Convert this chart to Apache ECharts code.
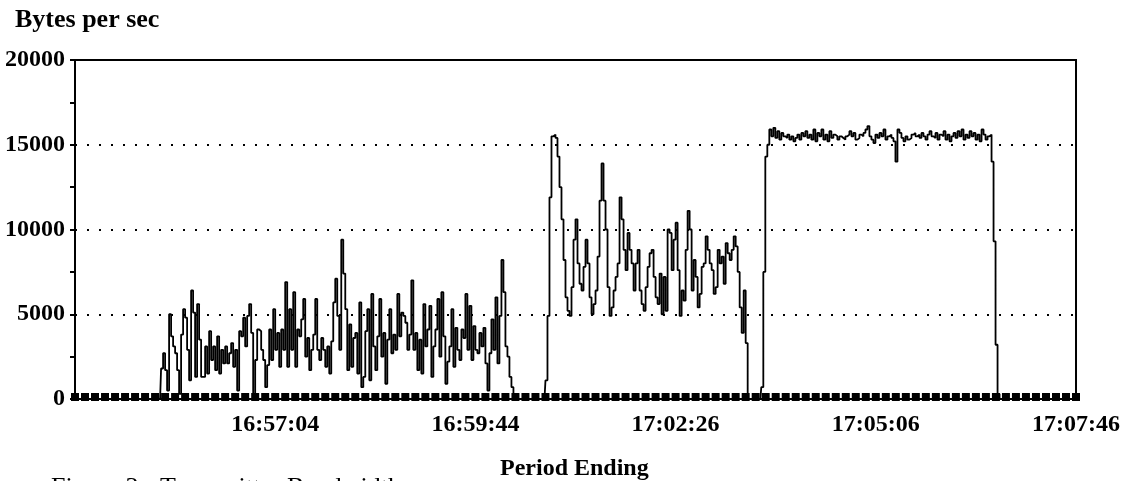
<!DOCTYPE html>
<html>
<head>
<meta charset="utf-8">
<script src="https://cdn.jsdelivr.net/npm/echarts@6/dist/echarts.min.js"></script>
<style>
html,body{margin:0;padding:0;background:#fff;}
#chart{width:1123px;height:481px;}
</style>
</head>
<body>
<div id="chart"></div>
<script>
// ---- data ----
const yAxisTitle = 'Bytes per sec';
const xAxisTitle = 'Period Ending';
const captionText = 'Figure 3 - Transmitter Bandwidth';
// x tick labels every 160 s from the left edge of the plot (first one not shown)
const xTickLabels = ['', '16:57:04', '16:59:44', '17:02:26', '17:05:06', '17:07:46'];
const yTicks = [0, 5000, 10000, 15000, 20000];

const sampleSeconds = 1.6;           // spacing of the bandwidth samples
const burst1Start = 68;              // seconds from the left edge
const burst1 = [0,1800,2700,1700,500,5000,3700,3100,2700,1700,300,3800,5300,4800,2900,1100,6400,5100,1300,5600,
3500,1300,1300,3100,1500,4000,2300,3100,1700,3700,1500,2900,2100,3100,2100,2700,3300,1900,2900,500,
4000,3700,4800,3100,4900,5600,3900,300,2300,4100,4000,2900,2300,700,2000,4100,2300,5300,2900,3900,
1900,4100,2900,6900,1900,5300,2900,6300,1900,4100,3700,4700,5900,2500,3600,1700,2900,3800,5900,2900,
2300,3600,2900,1900,3100,1500,3400,5700,7100,4900,2900,9400,7400,5300,1700,4400,1900,3600,3900,1500,
5700,700,1300,4000,5300,1100,6200,3100,1700,3700,5900,2500,3900,900,3500,5300,2700,3800,2900,6200,
3700,5100,4900,4500,2900,3800,7000,2900,3900,1700,3500,1500,5600,3100,4100,5500,1300,3100,4100,5900,
2500,6300,3700,900,2200,3100,5300,1900,4200,2900,2300,4100,3600,6200,2900,5500,2300,4300,2900,2700,
3900,3100,4200,2100,500,2700,4700,2900,6000,2100,4900,8200,6300,3100,2500,1300,700,0];

const burst2Start = 375.2;
const burst2 = [0,1100,4900,11900,15500,15600,15400,14300,12500,10600,8200,6000,5200,4900,6600,9400,10600,8000,6800,6400,
7800,9400,8000,6000,5000,5600,6400,8400,11700,13900,11700,10000,6600,4900,5400,6400,7200,8000,11900,10600,
8800,7600,9800,8800,8000,6400,8000,8800,6400,5600,5200,6600,7800,8600,8800,7200,6000,5600,7400,5000,
7200,5200,10000,9800,7600,9400,10400,7600,4900,6400,5800,8800,11100,10000,6400,8200,7200,5400,6200,7800,
8000,9600,8800,8000,7600,6200,6600,8800,8000,8400,6800,9200,8600,8200,8800,9600,9000,7500,5400,3900,
6400,3300,0];

const burst3Start = 547.7;
const burst3 = [0,700,7500,14300,15000,
15900,15500,16000,15400,15800,15300,15700,15500,15400,15600,
15300,15500,15200,15400,15600,15300,15700,15500,15800,15400,
15600,15300,15900,15200,15700,15500,15900,15300,15600,15200,
15800,15400,15600,15500,15300,15500,15400,15300,15500,15600,
15800,15500,15700,15300,15400,15600,15500,15700,15900,16100,
15500,15300,15100,15600,15400,15700,15500,15900,15300,15500,
15600,15400,15200,14000,15900,15700,15400,15200,15500,15300,
15400,15600,15700,15500,15600,15400,15700,15500,15300,15600,
15800,15500,15400,15700,15300,15600,15500,15800,15300,15600,
15200,15500,15700,15400,15800,15500,15900,15300,15600,15400,
15800,15500,15700,15300,15600,15200,15900,15600,15300,15500,15600,
14000,9300,3200,300,0];

// second counter: idle at zero, sampled every 8 s
const idleSeconds = 8;
const idleCounter = [0,0,0,0,0,0,0,0,0,0,0,0,0,0,0,0,0,0,0,0,
0,0,0,0,0,0,0,0,0,0,0,0,0,0,0,0,0,0,0,0,
0,0,0,0,0,0,0,0,0,0,0,0,0,0,0,0,0,0,0,0,
0,0,0,0,0,0,0,0,0,0,0,0,0,0,0,0,0,0,0,0,
0,0,0,0,0,0,0,0,0,0,0,0,0,0,0,0,0,0,0,0,0];

// ---- build series data ----
function burstPoints(start, values){
  return values.map((v,i)=>[start + i*sampleSeconds, v]);
}
const bandwidth = [[0,0]]
  .concat(burstPoints(burst1Start, burst1))
  .concat(burstPoints(burst2Start, burst2))
  .concat(burstPoints(burst3Start, burst3))
  .concat([[800,0]]);
const idle = idleCounter.map((v,i)=>[i*idleSeconds, v]);

const serif = "'Liberation Serif','Times New Roman',serif";
const chart = echarts.init(document.getElementById('chart'), null, {renderer:'canvas'});
chart.setOption({
  animation:false,
  backgroundColor:'#ffffff',
  grid:{left:75, top:60, right:46, bottom:82, show:true, borderColor:'#000', borderWidth:2, backgroundColor:'transparent'},
  xAxis:{
    type:'value', min:0, max:800, interval:160,
    axisLine:{show:true, lineStyle:{color:'#000', width:2}},
    axisTick:{show:false},
    splitLine:{show:false},
    axisLabel:{margin:14, color:'#000', fontFamily:serif, fontWeight:'bold', fontSize:24,
      formatter:(v)=> xTickLabels[Math.round(v/160)] || ''}
  },
  yAxis:{
    type:'value', min:yTicks[0], max:yTicks[yTicks.length-1], interval:5000,
    axisLine:{show:true, lineStyle:{color:'#000', width:2}},
    axisTick:{show:true, length:5, lineStyle:{color:'#000', width:2}},
    minorTick:{show:true, splitNumber:2, length:5, lineStyle:{color:'#000', width:2}},
    splitLine:{show:true, lineStyle:{color:'#000', width:2, type:[2,10]}},
    axisLabel:{margin:10, color:'#000', fontFamily:serif, fontWeight:'bold', fontSize:24,
      formatter:(v)=> String(v)}
  },
  series:[
    {type:'line', data:bandwidth, step:'middle', symbol:'none', z:3,
     lineStyle:{color:'#000', width:1.8}},
    {type:'line', data:idle, symbol:'rect', symbolSize:[8,8], symbolOffset:[0,-2], z:4,
     itemStyle:{color:'#000'}, lineStyle:{color:'#000', width:2}}
  ],
  graphic:[
    {type:'text', left:15, top:7, style:{text:yAxisTitle, font:"bold 26px 'Liberation Serif', serif", fill:'#000'}},
    {type:'text', left:500, top:457, style:{text:xAxisTitle, font:"bold 24px 'Liberation Serif', serif", fill:'#000'}},
    {type:'text', left:51, top:475, style:{text:captionText, font:"26px 'Liberation Serif', serif", fill:'#000'}}
  ]
});
</script>
</body>
</html>
